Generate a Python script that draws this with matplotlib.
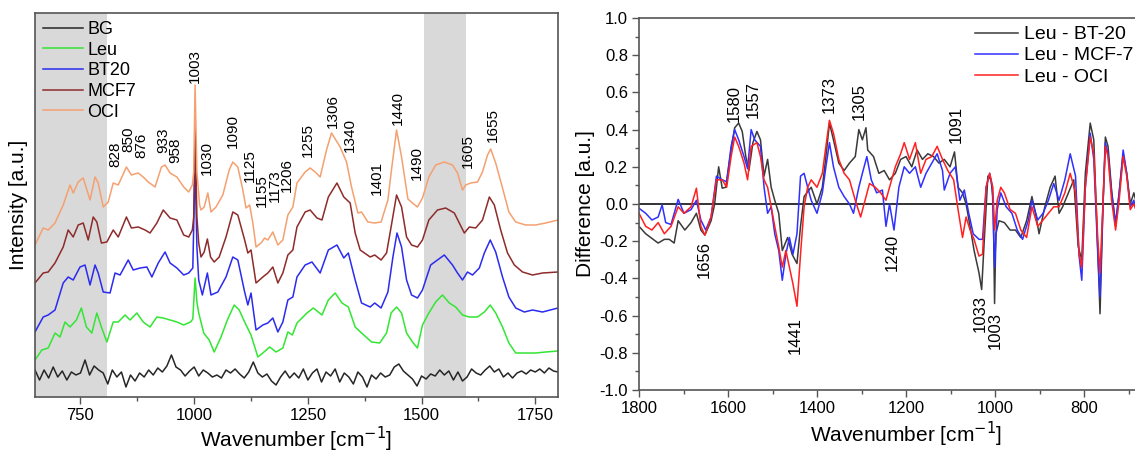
import numpy as np
import matplotlib
matplotlib.use("Agg")
import matplotlib.pyplot as plt
from matplotlib.ticker import MultipleLocator, FormatStrFormatter

plt.rcParams['font.family'] = ['Liberation Sans', 'DejaVu Sans']

# ---- left panel: stacked Raman spectra (arbitrary intensity units) ----
oci_wn = [650, 668, 679, 694, 712, 727, 734, 745, 756, 771, 782, 789, 800, 811, 822, 833, 851, 862, 877, 888,
          899, 914, 928, 936, 947, 962, 977, 988, 996, 999, 1002, 1006, 1012, 1015, 1022, 1030, 1037, 1048, 1063,
          1077, 1085, 1096, 1107, 1114, 1122, 1129, 1136, 1147, 1155, 1162, 1173, 1184, 1195, 1206, 1217, 1226,
          1244, 1255, 1266, 1277, 1291, 1302, 1321, 1335, 1346, 1360, 1368, 1382, 1397, 1411, 1426, 1433, 1445,
          1456, 1470, 1480, 1491, 1502, 1516, 1531, 1550, 1568, 1579, 1590, 1597, 1608, 1623, 1634, 1645, 1652,
          1663, 1678, 1692, 1707, 1729, 1751, 1773, 1800]
oci_int = [152, 169, 167, 174, 192, 212, 204, 215, 219, 197, 220, 214, 190, 195, 214, 212, 230, 222, 224, 220,
           215, 210, 230, 232, 224, 220, 210, 205, 212, 225, 312, 225, 192, 187, 190, 204, 185, 190, 202,
           227, 235, 230, 207, 189, 192, 174, 150, 154, 159, 157, 165, 152, 157, 182, 190, 214,
           225, 229, 225, 220, 247, 264, 250, 235, 210, 184, 185, 175, 174, 175, 197, 224, 267,
           240, 198, 194, 190, 199, 220, 232, 235, 232, 224, 207, 212, 214, 215, 225, 242, 248,
           234, 209, 185, 175, 172, 172, 174, 177]

mcf7_wn = [650, 668, 679, 694, 712, 723, 734, 745, 756, 767, 778, 786, 796, 808, 822, 833, 851, 862, 877, 892,
           903, 918, 932, 947, 962, 977, 988, 996, 999, 1002, 1006, 1010, 1015, 1022, 1029, 1036, 1044, 1055,
           1070, 1085, 1096, 1111, 1118, 1125, 1136, 1151, 1162, 1173, 1184, 1195, 1206, 1217, 1226, 1244, 1255,
           1270, 1281, 1295, 1314, 1329, 1343, 1354, 1365, 1387, 1397, 1411, 1423, 1433, 1445, 1456, 1467, 1478,
           1491, 1502, 1516, 1535, 1553, 1572, 1583, 1594, 1605, 1619, 1634, 1649, 1660, 1674, 1689, 1704, 1722,
           1744, 1766, 1800]
mcf7_int = [114, 124, 125, 134, 150, 167, 160, 172, 174, 157, 180, 175, 154, 155, 167, 160, 180, 169, 170, 167,
            164, 174, 187, 179, 177, 162, 160, 167, 180, 270, 180, 154, 140, 145, 158, 140, 135, 140,
            160, 185, 182, 157, 144, 147, 114, 120, 124, 130, 114, 124, 142, 147, 170, 185, 187,
            179, 177, 200, 214, 200, 194, 164, 147, 140, 142, 137, 144, 170, 202, 190, 160, 152,
            150, 157, 177, 187, 189, 184, 174, 164, 170, 169, 177, 200, 192, 167, 144, 132, 125,
            122, 124, 125]

bt20_wn = [650, 668, 679, 694, 712, 723, 734, 749, 760, 771, 782, 789, 800, 815, 826, 837, 855, 866, 881, 896,
           907, 921, 936, 947, 962, 977, 988, 997, 1002, 1006, 1010, 1018, 1029, 1037, 1052, 1070, 1085, 1096,
           1111, 1118, 1125, 1136, 1151, 1162, 1173, 1184, 1195, 1206, 1217, 1226, 1244, 1259, 1277, 1295, 1314,
           1329, 1339, 1354, 1368, 1387, 1397, 1411, 1426, 1437, 1446, 1456, 1467, 1478, 1491, 1502, 1520, 1535,
           1550, 1568, 1579, 1590, 1601, 1612, 1627, 1638, 1651, 1663, 1678, 1692, 1707, 1726, 1744, 1766, 1800]
bt20_int = [65, 80, 82, 87, 114, 120, 117, 130, 132, 112, 132, 124, 105, 104, 124, 122, 137, 127, 129, 130,
            120, 134, 145, 134, 129, 122, 124, 129, 235, 150, 117, 102, 124, 102, 105, 120, 140, 137,
            105, 92, 104, 67, 72, 74, 79, 65, 75, 97, 100, 120, 132, 135, 124, 147, 152,
            139, 144, 117, 94, 90, 94, 89, 105, 140, 164, 150, 117, 102, 99, 107, 132, 137,
            142, 132, 124, 117, 125, 122, 129, 144, 157, 145, 120, 100, 89, 85, 87, 85, 89]

leu_wn = [650, 665, 679, 694, 705, 716, 727, 741, 752, 763, 775, 786, 796, 808, 822, 833, 848, 859, 874, 888,
          903, 918, 932, 947, 962, 977, 992, 997, 1002, 1006, 1010, 1021, 1033, 1044, 1059, 1073, 1088, 1099,
          1111, 1125, 1140, 1151, 1166, 1180, 1195, 1206, 1216, 1226, 1248, 1262, 1281, 1295, 1310, 1325, 1339,
          1354, 1368, 1390, 1408, 1423, 1433, 1445, 1456, 1467, 1480, 1491, 1502, 1516, 1531, 1546, 1561, 1575,
          1590, 1605, 1623, 1638, 1651, 1663, 1678, 1692, 1707, 1729, 1751, 1773, 1800]
leu_int = [37, 47, 49, 64, 60, 75, 70, 77, 89, 70, 64, 84, 70, 55, 75, 75, 82, 77, 84, 75,
           70, 80, 79, 77, 75, 72, 75, 78, 119, 95, 84, 64, 57, 45, 60, 77, 92, 87,
           75, 62, 40, 44, 50, 45, 49, 65, 62, 74, 84, 89, 82, 97, 104, 94, 90,
           70, 64, 55, 54, 64, 84, 90, 84, 64, 55, 49, 72, 84, 95, 102, 94, 90,
           82, 80, 80, 85, 92, 84, 70, 54, 44, 44, 44, 45, 46]

bg_wn = np.arange(650, 1801, 10)
bg_int = [27, 17, 27, 19, 30, 20, 26, 17, 25, 22, 24, 37, 22, 31, 27, 24, 13, 27, 20, 25,
          10, 22, 16, 24, 20, 27, 22, 29, 25, 31, 42, 30, 27, 21, 26, 30, 21, 27, 24, 20,
          22, 19, 27, 24, 28, 23, 19, 25, 35, 24, 20, 23, 16, 12, 20, 26, 19, 24, 19, 28,
          17, 24, 28, 15, 25, 21, 28, 15, 24, 20, 13, 25, 20, 10, 22, 18, 24, 20, 22, 30,
          33, 26, 22, 18, 11, 21, 18, 23, 21, 27, 22, 26, 17, 25, 16, 20, 28, 24, 22, 27,
          31, 25, 28, 20, 24, 19, 24, 26, 23, 27, 25, 28, 24, 29, 26, 25]

left_peaks = ['828', '850', '876', '933', '958', '1003', '1030', '1090', '1125', '1155', '1173', '1206',
              '1255', '1306', '1340', '1401', '1440', '1490', '1605', '1655']
left_peak_x = [826, 855, 885, 932, 958, 1002, 1028, 1086, 1123, 1149, 1178, 1204,
               1250, 1305, 1343, 1402, 1448, 1490, 1602, 1657]
left_peak_y = [230, 245, 239, 244, 234, 314, 222, 249, 215, 190, 195, 205,
               240, 269, 245, 202, 272, 217, 229, 255]

# ---- right panel: difference spectra ----
diff_bt20_wn = [1800, 1785, 1771, 1757, 1743, 1732, 1721, 1712, 1697, 1683, 1671, 1661, 1652, 1638, 1630, 1621,
                1613, 1605, 1593, 1585, 1576, 1568, 1560, 1553, 1544, 1535, 1527, 1519, 1511, 1503, 1495, 1486,
                1478, 1466, 1456, 1445, 1437, 1429, 1421, 1413, 1400, 1388, 1380, 1372, 1363, 1351, 1339, 1327,
                1314, 1306, 1298, 1290, 1286, 1273, 1261, 1249, 1237, 1224, 1212, 1200, 1187, 1175, 1163, 1151,
                1138, 1126, 1114, 1101, 1091, 1083, 1073, 1065, 1056, 1047, 1036, 1030, 1024, 1016, 1009, 1004,
                1001, 998, 991, 979, 966, 954, 942, 929, 917, 909, 901, 888, 876, 865, 856, 848, 835, 823, 813,
                805, 797, 786, 778, 769, 764, 757, 752, 746, 738, 729, 721, 712, 704, 696, 688, 680]
diff_bt20 = [-0.12, -0.16, -0.185, -0.21, -0.19, -0.19, -0.21, -0.09, -0.14, -0.10, -0.05, -0.14, -0.167, -0.09,
             0.0, 0.2, 0.085, 0.09, 0.29, 0.41, 0.435, 0.39, 0.255, 0.18, 0.33, 0.39, 0.345, 0.15, 0.24, 0.09,
             0.02, -0.05, -0.25, -0.18, -0.27, -0.32, -0.12, 0.04, 0.066, 0.09, 0.0, 0.09, 0.255, 0.435, 0.345,
             0.22, 0.18, 0.22, 0.255, 0.40, 0.345, 0.41, 0.29, 0.255, 0.165, 0.18, 0.13, 0.165, 0.24, 0.255,
             0.2, 0.29, 0.24, 0.27, 0.255, 0.22, 0.24, 0.2, 0.28, 0.09, 0.06, 0.0, -0.12, -0.25, -0.37, -0.46,
             -0.19, 0.15, 0.13, 0.02, -0.535, -0.16, -0.09, -0.10, -0.14, -0.14, -0.18, -0.09, 0.04, -0.05,
             -0.16, -0.015, 0.09, 0.15, -0.05, -0.015, 0.06, 0.13, -0.23, -0.30, 0.165, 0.435, 0.345, -0.25,
             -0.59, 0.02, 0.36, 0.31, 0.075, -0.12, 0.06, 0.27, 0.165, 0.0, 0.06, -0.015]

diff_mcf7_wn = [1800, 1785, 1771, 1757, 1748, 1740, 1728, 1712, 1699, 1683, 1671, 1661, 1650, 1638, 1626, 1613,
                1603, 1593, 1585, 1576, 1564, 1556, 1548, 1540, 1527, 1519, 1511, 1503, 1495, 1486, 1478, 1470,
                1462, 1454, 1445, 1437, 1429, 1421, 1413, 1400, 1388, 1380, 1372, 1363, 1351, 1339, 1327, 1318,
                1306, 1298, 1288, 1278, 1266, 1253, 1245, 1237, 1227, 1216, 1204, 1192, 1179, 1167, 1155, 1142,
                1130, 1118, 1114, 1101, 1089, 1079, 1069, 1059, 1049, 1036, 1028, 1020, 1012, 1006, 1001, 995,
                987, 975, 962, 950, 938, 925, 917, 904, 892, 880, 868, 856, 843, 831, 819, 811, 805, 797, 786,
                778, 769, 764, 757, 752, 746, 738, 729, 721, 712, 704, 696, 688, 680]
diff_mcf7 = [-0.023, -0.05, -0.086, -0.07, -0.005, -0.10, -0.11, 0.025, -0.05, -0.03, 0.02, -0.086, -0.14, -0.07,
             0.15, 0.13, 0.12, 0.31, 0.40, 0.345, 0.255, 0.19, 0.40, 0.345, 0.31, 0.09, -0.05, -0.015, -0.16,
             -0.25, -0.41, -0.27, -0.18, -0.27, -0.16, 0.15, 0.165, 0.09, 0.02, -0.05, 0.06, 0.2, 0.33, 0.2,
             0.09, 0.04, 0.0, -0.05, 0.09, 0.165, 0.255, 0.13, 0.06, 0.075, -0.12, 0.0, -0.14, 0.09, 0.2, 0.165,
             0.2, 0.09, 0.165, 0.22, 0.27, 0.18, 0.075, 0.165, 0.2, 0.02, 0.075, -0.05, -0.16, -0.19, -0.19,
             0.09, 0.165, 0.09, -0.34, -0.03, 0.06, -0.015, -0.05, -0.14, -0.19, -0.086, 0.02, -0.086, -0.05,
             0.02, 0.11, 0.02, 0.13, 0.27, 0.15, -0.28, -0.41, 0.09, 0.38, 0.24, -0.27, -0.50, 0.02, 0.33,
             0.27, 0.06, -0.10, 0.06, 0.29, 0.165, -0.015, 0.02, -0.07]

diff_oci_wn = [1800, 1785, 1771, 1757, 1743, 1728, 1712, 1699, 1683, 1671, 1661, 1652, 1638, 1626, 1613, 1603,
               1593, 1585, 1576, 1564, 1556, 1548, 1535, 1527, 1519, 1511, 1503, 1495, 1486, 1478, 1470, 1462,
               1454, 1445, 1437, 1429, 1421, 1413, 1400, 1388, 1380, 1372, 1363, 1351, 1339, 1327, 1314, 1302,
               1292, 1282, 1269, 1257, 1245, 1237, 1224, 1212, 1204, 1192, 1179, 1167, 1155, 1142, 1130, 1118,
               1106, 1093, 1083, 1073, 1065, 1056, 1047, 1036, 1028, 1020, 1012, 1005, 1001, 995, 987, 979, 966,
               954, 942, 929, 917, 904, 892, 880, 868, 856, 843, 831, 819, 811, 805, 797, 786, 778, 769, 764,
               757, 752, 746, 738, 729, 721, 712, 704, 696, 688, 680]
diff_oci = [-0.05, -0.12, -0.14, -0.10, -0.16, -0.12, -0.015, -0.05, -0.015, 0.085, -0.12, -0.167, -0.07, 0.13,
            0.13, 0.09, 0.255, 0.36, 0.31, 0.22, 0.13, 0.31, 0.33, 0.255, 0.13, 0.09, -0.015, -0.12, -0.23,
            -0.34, -0.25, -0.34, -0.43, -0.55, -0.27, -0.015, 0.09, 0.13, 0.09, 0.165, 0.31, 0.45, 0.38, 0.24,
            0.165, 0.13, 0.02, -0.07, 0.02, 0.11, 0.09, 0.06, 0.02, 0.09, 0.2, 0.27, 0.33, 0.24, 0.33, 0.165,
            0.24, 0.255, 0.31, 0.24, 0.18, 0.13, -0.03, -0.18, -0.07, -0.14, -0.19, -0.28, -0.27, 0.09, 0.165,
            0.09, -0.14, 0.02, 0.09, 0.06, -0.03, -0.05, -0.14, -0.18, -0.015, -0.12, -0.086, -0.05, -0.015,
            -0.015, 0.06, 0.165, 0.06, -0.27, -0.34, 0.09, 0.36, 0.27, -0.19, -0.37, 0.02, 0.31, 0.255, 0.02,
            -0.14, 0.02, 0.255, 0.15, -0.03, 0.0, -0.05]

up_peaks = ['1580', '1557', '1373', '1305', '1091']
up_peak_x = [1587, 1544, 1372, 1305, 1087]
up_peak_y = [0.44, 0.46, 0.49, 0.45, 0.33]
down_peaks = ['1656', '1441', '1240', '1033', '1003']
down_peak_x = [1653, 1449, 1232, 1033, 999]
down_peak_y = [-0.20, -0.61, -0.16, -0.49, -0.58]

spine_col = '#555555'

fig = plt.figure(figsize=(11.35, 4.54), dpi=100)

# left axes
ax1 = fig.add_axes([35 / 1135, 57 / 454, 523 / 1135, 384 / 454])
ax1.axvspan(650, 808, color='#d9d9d9', lw=0)
ax1.axvspan(1505, 1597, color='#d9d9d9', lw=0)
ax1.plot(bg_wn, bg_int, color='#262626', lw=1.1, label='BG')
ax1.plot(leu_wn, leu_int, color='#33e633', lw=1.1, label='Leu')
ax1.plot(bt20_wn, bt20_int, color='#2b2bf0', lw=1.1, label='BT20')
ax1.plot(mcf7_wn, mcf7_int, color='#8e2b2b', lw=1.1, label='MCF7')
ax1.plot(oci_wn, oci_int, color='#f5a070', lw=1.1, label='OCI')
for lab, x, y in zip(left_peaks, left_peak_x, left_peak_y):
    ax1.text(x, y, lab, rotation=90, ha='center', va='bottom', fontsize=11)
ax1.set_xlim(650, 1800)
ax1.set_ylim(0, 384)
ax1.set_yticks([])
ax1.xaxis.set_major_locator(MultipleLocator(250))
ax1.xaxis.set_minor_locator(MultipleLocator(125))
ax1.tick_params(axis='x', which='major', length=5, width=1, color=spine_col, labelsize=12, pad=3)
ax1.tick_params(axis='x', which='minor', length=3, width=1, color=spine_col)
ax1.set_xlabel('Wavenumber [cm$^{-1}$]', fontsize=15, labelpad=1)
ax1.set_ylabel('Intensity [a.u.]', fontsize=15, labelpad=5)
for s in ax1.spines.values():
    s.set_color(spine_col)
    s.set_linewidth(1.2)
ax1.legend(loc='upper left', bbox_to_anchor=(0, 1), frameon=False, fontsize=13,
           handlelength=2.2, handletextpad=0.25, labelspacing=0.2, borderaxespad=0.2, borderpad=0.25)

# right axes (runs past the right edge of the figure, as in the original crop)
ax2 = fig.add_axes([639 / 1135, 64 / 454, 534 / 1135, 372 / 454])
ax2.axhline(0, color='#222222', lw=1.3)
ax2.plot(diff_bt20_wn, diff_bt20, color='#3a3a3a', lw=1.1, label='Leu - BT-20')
ax2.plot(diff_mcf7_wn, diff_mcf7, color='#3030ff', lw=1.1, label='Leu - MCF-7')
ax2.plot(diff_oci_wn, diff_oci, color='#ff2020', lw=1.1, label='Leu - OCI')
for lab, x, y in zip(up_peaks, up_peak_x, up_peak_y):
    ax2.text(x, y, lab, rotation=90, ha='center', va='bottom', fontsize=12)
for lab, x, y in zip(down_peaks, down_peak_x, down_peak_y):
    ax2.text(x, y, lab, rotation=90, ha='center', va='top', fontsize=12)
ax2.set_xlim(1800, 600)
ax2.set_ylim(-1.0, 1.0)
ax2.set_xticks([1800, 1600, 1400, 1200, 1000, 800])
ax2.xaxis.set_minor_locator(MultipleLocator(100))
ax2.yaxis.set_major_locator(MultipleLocator(0.2))
ax2.yaxis.set_minor_locator(MultipleLocator(0.1))
ax2.yaxis.set_major_formatter(FormatStrFormatter('%.1f'))
ax2.tick_params(which='major', length=5, width=1, color=spine_col, labelsize=12, pad=3)
ax2.tick_params(which='minor', length=3, width=1, color=spine_col)
ax2.set_xlabel('Wavenumber [cm$^{-1}$]', fontsize=15, labelpad=3)
ax2.set_ylabel('Difference [a.u.]', fontsize=15, labelpad=3)
for s in ax2.spines.values():
    s.set_color(spine_col)
    s.set_linewidth(1.2)
ax2.legend(loc='upper left', bbox_to_anchor=(0.615, 1.0), frameon=False, fontsize=14,
           handlelength=2.2, handletextpad=0.3, labelspacing=0.18, borderaxespad=0.2, borderpad=0.2)

fig.savefig('out.png', dpi=100)
